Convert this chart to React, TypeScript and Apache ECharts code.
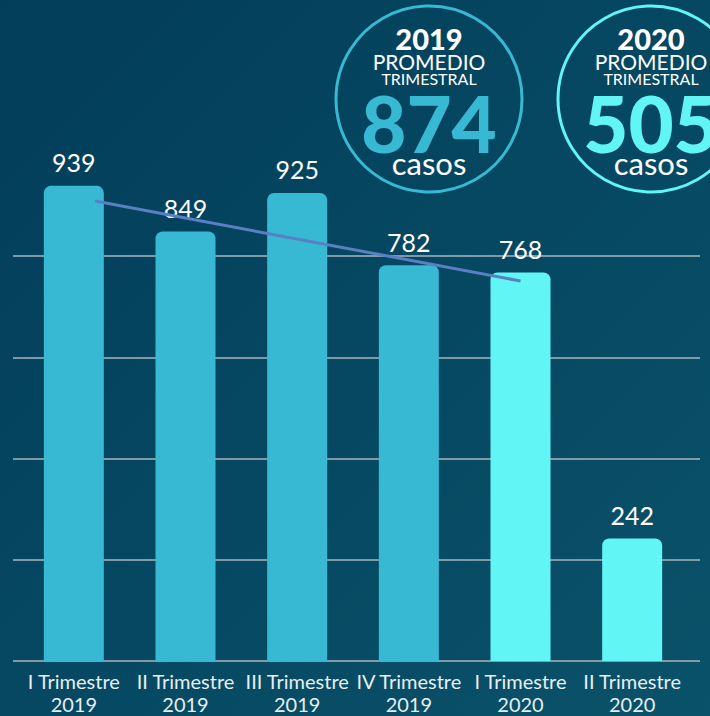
import React, { useEffect, useRef } from "react";
import * as echarts from "echarts";

const categories = [
  "I Trimestre\n2019",
  "II Trimestre\n2019",
  "III Trimestre\n2019",
  "IV Trimestre\n2019",
  "I Trimestre\n2020",
  "II Trimestre\n2020",
];
const barYears = ["2019", "2019", "2019", "2019", "2020", "2020"];
const values = [939, 849, 925, 782, 768, 242];
const trendX = [0.19, 4];
const trendY = [909, 751];
const avgYears = ["2019", "2020"];
const avgValues = [874, 505];

const yearColor: Record<string, string> = { "2019": "#38b9d3", "2020": "#62f5f5" };

export default function App() {
  const ref = useRef<HTMLDivElement>(null);
  useEffect(() => {
    if (!ref.current) return;
    const chart = echarts.init(ref.current, undefined, { renderer: "svg" });
    const circleCx = [429, 651];
    const cy = 99;
    const graphic: any[] = [];
    avgYears.forEach((yr, i) => {
      const cx = circleCx[i];
      const col = yearColor[yr];
      graphic.push({
        type: "circle",
        shape: { cx, cy, r: 93 },
        style: { fill: "transparent", stroke: col, lineWidth: 3 },
        z: 10,
      });
      const t = (text: string, y: number, size: number, weight: any, color: string, lh: number) => ({
        type: "text",
        x: cx,
        y,
        z: 11,
        style: {
          text,
          fill: color,
          fontFamily: "Lato",
          fontSize: size,
          fontWeight: weight,
          lineHeight: lh,
          textAlign: "center",
          textVerticalAlign: "middle",
        },
      });
      graphic.push(t(yr, 38, 29, 900, "#ffffff", 22));
      graphic.push(t("PROMEDIO", 61, 21, 400, "#ffffff", 16));
      graphic.push(t("TRIMESTRAL", 78, 16, 400, "#ffffff", 12));
      graphic.push(t(String(avgValues[i]), 123, 78, 900, col, 58));
      graphic.push(t("casos", 163, 31, 400, "#ffffff", 22));
    });

    chart.setOption({
      animation: false,
      backgroundColor: {
        type: "linear",
        x: 0,
        y: 0,
        x2: 1,
        y2: 1,
        colorStops: [
          { offset: 0, color: "#023d59" },
          { offset: 1, color: "#0a5269" },
        ],
      },
      grid: [
        { left: 18, right: 22, top: 155, bottom: 55 },
        { left: 13, right: 10, top: 256, bottom: 55 },
      ],
      xAxis: [
        {
          type: "category",
          data: categories,
          gridIndex: 0,
          axisLine: { show: false },
          axisTick: { show: false },
          axisLabel: {
            color: "#e6eef2",
            fontFamily: "Lato",
            fontSize: 20,
            lineHeight: 23,
            margin: 8,
            interval: 0,
          },
        },
        { type: "value", gridIndex: 0, min: -0.5, max: 5.5, show: false },
        { type: "value", gridIndex: 1, min: 0, max: 1, show: false },
      ],
      yAxis: [
        {
          type: "value",
          gridIndex: 0,
          min: 0,
          max: 1000,
          interval: 200,
          show: false,
          splitLine: { show: false },
        },
        {
          type: "value",
          gridIndex: 1,
          min: 0,
          max: 800,
          interval: 200,
          axisLine: { show: false },
          axisTick: { show: false },
          axisLabel: { show: false },
          splitLine: { show: true, lineStyle: { color: "#a9b6be", width: 1.5 } },
        },
      ],
      graphic,
      series: [
        {
          type: "bar",
          xAxisIndex: 0,
          yAxisIndex: 0,
          barWidth: 60,
          data: values.map((v, i) => ({
            value: v,
            itemStyle: { color: yearColor[barYears[i]], borderRadius: [7, 7, 0, 0] },
          })),
          label: {
            show: true,
            position: "top",
            distance: 11,
            color: "#ffffff",
            fontFamily: "Lato",
            fontSize: 25,
          },
          z: 2,
        },
        {
          type: "line",
          xAxisIndex: 1,
          yAxisIndex: 0,
          data: trendX.map((x, i) => [x, trendY[i]]),
          showSymbol: false,
          symbol: "none",
          lineStyle: { color: "#5a7fc2", width: 3 },
          z: 5,
        },
      ],
    });
    return () => chart.dispose();
  }, []);
  return (
    <div
      ref={ref}
      style={{ position: "fixed", left: 0, top: 0, width: 710, height: 716 }}
    />
  );
}
